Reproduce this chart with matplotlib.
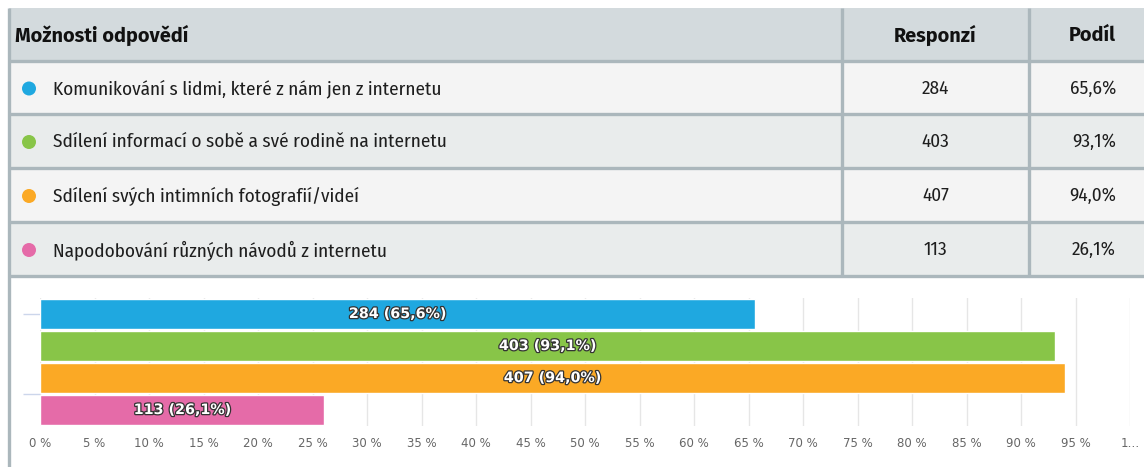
import matplotlib
matplotlib.use("Agg")
import matplotlib.pyplot as plt
from matplotlib.patches import Rectangle, Circle
import matplotlib.patheffects as pe

# ---- data ----
options = [
    "Komunikování s lidmi, které z nám jen z internetu",
    "Sdílení informací o sobě a své rodině na internetu",
    "Sdílení svých intimních fotografií/videí",
    "Napodobování různých návodů z internetu",
]
responses = [284, 403, 407, 113]
shares = [65.6, 93.1, 94.0, 26.1]
colors = ["#1fa8e0", "#88c548", "#fba925", "#e56ba8"]
header = ["Možnosti odpovědí", "Responzí", "Podíl"]
xticks = list(range(0, 101, 5))
xtick_labels = [f"{t} %" for t in xticks[:-1]] + ["1…"]

W, H = 1144, 467
fig = plt.figure(figsize=(W / 100, H / 100), dpi=100)
fig.patch.set_facecolor("white")

# full-figure pixel axes for the table
tab = fig.add_axes([0, 0, 1, 1])
tab.set_xlim(0, W)
tab.set_ylim(H, 0)
tab.axis("off")

TFONT = ["Fira Sans Condensed", "DejaVu Sans"]
HFONT = ["Fira Sans", "Fira Sans Condensed", "DejaVu Sans"]
border = "#abb7bc"
hdr_bg = "#d3dadd"
row_bg = ["#f4f4f4", "#e9ecec", "#f4f4f4", "#e9ecec"]

left, right = 9, 1150
col1, col2 = 842, 1029
top = 8
hdr_bottom = 61
row_edges = [61, 114, 168, 222, 276]

tab.add_patch(Rectangle((left, top), right - left, hdr_bottom - top, facecolor=hdr_bg, edgecolor="none"))
for i in range(len(options)):
    y0, y1 = row_edges[i], row_edges[i + 1]
    tab.add_patch(Rectangle((left, y0), right - left, y1 - y0, facecolor=row_bg[i], edgecolor="none"))
for y in row_edges:
    tab.plot([left, right], [y, y], color=border, lw=2.4, solid_capstyle="butt")
tab.plot([left, left], [top, H], color=border, lw=2.4, solid_capstyle="butt")
for x in (col1, col2):
    tab.plot([x, x], [top, row_edges[-1]], color=border, lw=2.4, solid_capstyle="butt")

hy = (top + hdr_bottom) / 2 + 1
tab.text(15, hy, header[0], fontsize=14.3, fontweight="bold", family=HFONT, ha="left", va="center", color="#111111")
tab.text((col1 + col2) / 2, hy, header[1], fontsize=14.3, fontweight="bold", family=HFONT, ha="center", va="center", color="#111111")
tab.text(1092, hy, header[2], fontsize=14.3, fontweight="bold", family=HFONT, ha="center", va="center", color="#111111")

for i, (opt, r, s, c) in enumerate(zip(options, responses, shares, colors)):
    yc = (row_edges[i] + row_edges[i + 1]) / 2 + 1
    tab.add_patch(Circle((29, yc), 7, facecolor=c, edgecolor="none"))
    tab.text(53, yc, opt, fontsize=13.8, family=TFONT, ha="left", va="center", color="#1e1e1e")
    tab.text((col1 + col2) / 2, yc, str(r), fontsize=13.8, family=TFONT, ha="center", va="center", color="#1e1e1e")
    tab.text(1116, yc, f"{s:.1f}%".replace(".", ","), fontsize=13.8, family=TFONT, ha="right", va="center", color="#1e1e1e")

# ---- bar chart ----
ax_l, ax_r = 40, 1130
ax_t, ax_b = 298, 426
ax = fig.add_axes([ax_l / W, 1 - ax_b / H, (ax_r - ax_l) / W, (ax_b - ax_t) / H])
ax.set_xlim(0, 100)
ax.set_ylim(3.5, -0.5)
ypos = list(range(len(options)))
ax.barh(ypos, shares, height=0.96, color=colors, edgecolor="white", linewidth=1)
for yv, r, s in zip(ypos, responses, shares):
    ax.text(s / 2, yv, f"{r} ({s:.1f}%)".replace(".", ","), ha="center", va="center",
            fontsize=10.3, fontweight="bold", color="white", family="DejaVu Sans",
            path_effects=[pe.withStroke(linewidth=1.8, foreground="#333333")])
ax.set_xticks(xticks)
ax.set_xticklabels(xtick_labels, fontsize=8.5, color="#666666")
ax.tick_params(axis="x", length=0, pad=8)
ax.grid(axis="x", color="#e6e6e6", lw=1)
ax.set_axisbelow(True)
ax.set_yticks([0, 2.5])
ax.set_yticklabels([])
ax.tick_params(axis="y", length=12, color="#ccd6eb", width=1)
for sp in ax.spines.values():
    sp.set_visible(False)
ax.set_facecolor("none")

fig.savefig("out.png", dpi=100)
